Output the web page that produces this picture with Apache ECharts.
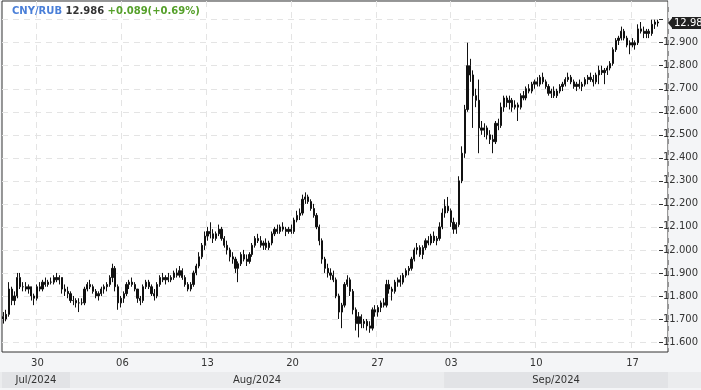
<!DOCTYPE html>
<html><head><meta charset="utf-8">
<script src="https://cdn.jsdelivr.net/npm/echarts/dist/echarts.min.js"></script>
<style>html,body{margin:0;padding:0;background:#f4f5f7;}#c{width:701px;height:390px;}</style>
</head><body><div id="c"></div><script>
const FONT = 'DejaVu Sans';
const symbolName = 'CNY/RUB';
const lastPrice = 12.986;
const change = 0.089;
const changePct = 0.69;

const tradingDays = ['2024-07-26','2024-07-29','2024-07-30','2024-07-31','2024-08-01','2024-08-02','2024-08-05',
 '2024-08-06','2024-08-07','2024-08-08','2024-08-09','2024-08-12','2024-08-13','2024-08-14','2024-08-15','2024-08-16','2024-08-19',
 '2024-08-20','2024-08-21','2024-08-22','2024-08-23','2024-08-26','2024-08-27','2024-08-28','2024-08-29','2024-08-30',
 '2024-09-02','2024-09-03','2024-09-04','2024-09-05','2024-09-06','2024-09-09','2024-09-10','2024-09-11','2024-09-12','2024-09-13','2024-09-16',
 '2024-09-17','2024-09-18'];
const candlesPerDay = [6,6,6,6,6,6,6, 6,6,6,6,6, 6,6,6,6,6, 6,6,6,6,6, 6,6,6,6, 2, 6,6,6,6,6, 7,7,7,7,6, 7,6];
const tickDays = ['2024-07-30','2024-08-06','2024-08-13','2024-08-20','2024-08-27','2024-09-03','2024-09-10','2024-09-17'];
const monthKeys = ['2024-07','2024-08','2024-09'];
const monthLabels = ['Jul/2024','Aug/2024','Sep/2024'];
const yMin = 11.6, yMax = 13.0, yStep = 0.1;

const open = [
11.71,11.70,11.72,11.83,11.78,11.80,11.88,11.84,11.84,11.83,
11.84,11.80,11.79,11.84,11.83,11.86,11.85,11.86,11.86,11.88,
11.87,11.88,11.83,11.82,11.81,11.78,11.78,11.77,11.77,11.77,
11.83,11.85,11.84,11.82,11.80,11.81,11.83,11.84,11.85,11.88,
11.92,11.84,11.77,11.79,11.81,11.85,11.86,11.85,11.83,11.79,
11.78,11.84,11.86,11.84,11.81,11.80,11.85,11.88,11.87,11.88,
11.87,11.88,11.90,11.89,11.91,11.88,11.85,11.83,11.85,11.90,
11.93,11.97,12.02,12.06,12.08,12.07,12.05,12.07,12.09,12.05,
12.02,12.00,11.97,11.96,11.92,11.94,11.98,11.96,11.95,11.98,
12.02,12.05,12.04,12.02,12.03,12.01,12.03,12.07,12.09,12.08,
12.10,12.09,12.08,12.09,12.08,12.13,12.15,12.16,12.22,12.23,
12.21,12.18,12.15,12.10,12.04,11.96,11.92,11.90,11.89,11.87,
11.80,11.73,11.76,11.85,11.87,11.82,11.74,11.68,11.71,11.68,
11.69,11.67,11.66,11.74,11.73,11.75,11.77,11.76,11.85,11.83,
11.82,11.86,11.87,11.86,11.89,11.91,11.92,11.96,12.00,12.01,
11.98,12.01,12.04,12.03,12.06,12.04,12.05,12.10,12.16,12.19,
12.17,12.12,12.09,12.11,12.30,12.42,12.61,12.80,12.76,12.67,
12.65,12.53,12.52,12.53,12.50,12.48,12.47,12.55,12.54,12.62,
12.66,12.64,12.65,12.62,12.63,12.62,12.67,12.66,12.70,12.69,
12.72,12.73,12.72,12.75,12.73,12.71,12.68,12.69,12.67,12.69,
12.71,12.72,12.74,12.75,12.73,12.71,12.72,12.71,12.72,12.74,
12.75,12.74,12.73,12.76,12.78,12.77,12.78,12.79,12.81,12.87,
12.91,12.92,12.95,12.92,12.89,12.90,12.89,12.90,12.96,12.95,
12.94,12.95,12.94,12.98,12.99];
const close = [
11.70,11.72,11.83,11.78,11.80,11.88,11.84,11.84,11.83,11.84,
11.80,11.79,11.84,11.83,11.86,11.85,11.86,11.86,11.88,11.87,
11.88,11.83,11.82,11.81,11.78,11.78,11.77,11.77,11.77,11.83,
11.85,11.84,11.82,11.80,11.81,11.83,11.84,11.85,11.88,11.92,
11.84,11.77,11.79,11.81,11.85,11.86,11.85,11.83,11.79,11.78,
11.84,11.86,11.84,11.81,11.80,11.85,11.88,11.87,11.88,11.87,
11.88,11.90,11.89,11.91,11.88,11.85,11.83,11.85,11.90,11.93,
11.97,12.02,12.06,12.08,12.07,12.05,12.07,12.09,12.05,12.02,
12.00,11.97,11.96,11.92,11.94,11.98,11.96,11.95,11.98,12.02,
12.05,12.04,12.02,12.03,12.01,12.03,12.07,12.09,12.08,12.10,
12.09,12.08,12.09,12.08,12.13,12.15,12.16,12.22,12.23,12.21,
12.18,12.15,12.10,12.04,11.96,11.92,11.90,11.89,11.87,11.80,
11.73,11.76,11.85,11.87,11.82,11.74,11.68,11.71,11.68,11.69,
11.67,11.66,11.74,11.73,11.75,11.77,11.76,11.85,11.83,11.82,
11.86,11.87,11.86,11.89,11.91,11.92,11.96,12.00,12.01,11.98,
12.01,12.04,12.03,12.06,12.04,12.05,12.10,12.16,12.19,12.17,
12.12,12.09,12.11,12.30,12.42,12.61,12.80,12.76,12.67,12.65,
12.53,12.52,12.53,12.50,12.48,12.47,12.55,12.54,12.62,12.66,
12.64,12.65,12.62,12.63,12.62,12.67,12.66,12.70,12.69,12.72,
12.73,12.72,12.75,12.73,12.71,12.68,12.69,12.67,12.69,12.71,
12.72,12.74,12.75,12.73,12.71,12.72,12.71,12.72,12.74,12.75,
12.74,12.73,12.76,12.78,12.77,12.78,12.79,12.81,12.87,12.91,
12.92,12.95,12.92,12.89,12.90,12.89,12.90,12.96,12.95,12.94,
12.95,12.94,12.98,12.99,12.986];
const high = [
11.73,11.74,11.86,11.84,11.82,11.90,11.90,11.86,11.86,11.85,
11.84,11.81,11.85,11.86,11.87,11.88,11.87,11.88,11.89,11.90,
11.89,11.88,11.85,11.84,11.82,11.80,11.79,11.79,11.79,11.84,
11.86,11.87,11.85,11.83,11.82,11.84,11.85,11.86,11.89,11.94,
11.93,11.85,11.80,11.82,11.86,11.87,11.88,11.86,11.83,11.80,
11.85,11.87,11.87,11.85,11.83,11.86,11.89,11.90,11.89,11.90,
11.89,11.91,11.92,11.93,11.92,11.89,11.86,11.86,11.91,11.94,
11.99,12.03,12.08,12.10,12.12,12.09,12.08,12.11,12.10,12.06,
12.04,12.01,11.99,11.97,11.95,11.99,12.00,11.98,11.99,12.03,
12.06,12.07,12.06,12.04,12.05,12.04,12.08,12.10,12.11,12.11,
12.12,12.10,12.10,12.11,12.14,12.17,12.18,12.24,12.25,12.24,
12.22,12.20,12.16,12.11,12.05,11.97,11.94,11.92,11.91,11.88,
11.81,11.77,11.86,11.89,11.88,11.83,11.75,11.73,11.72,11.70,
11.70,11.69,11.75,11.76,11.76,11.78,11.79,11.87,11.87,11.84,
11.87,11.88,11.89,11.90,11.92,11.93,11.97,12.01,12.03,12.02,
12.02,12.05,12.06,12.07,12.08,12.06,12.12,12.18,12.22,12.23,
12.18,12.14,12.12,12.32,12.45,12.63,12.90,12.83,12.78,12.70,
12.74,12.56,12.55,12.54,12.52,12.50,12.56,12.57,12.64,12.67,
12.67,12.67,12.66,12.65,12.64,12.68,12.69,12.71,12.72,12.73,
12.74,12.75,12.76,12.77,12.74,12.72,12.70,12.71,12.70,12.72,
12.73,12.75,12.77,12.76,12.74,12.73,12.74,12.73,12.75,12.76,
12.77,12.76,12.77,12.80,12.80,12.79,12.80,12.82,12.88,12.92,
12.93,12.97,12.96,12.93,12.91,12.92,12.91,12.98,12.99,12.97,
12.96,12.96,13.00,13.00,13.00];
const low = [
11.68,11.69,11.71,11.76,11.76,11.79,11.83,11.82,11.82,11.81,
11.78,11.76,11.78,11.82,11.82,11.84,11.84,11.85,11.85,11.86,
11.85,11.81,11.80,11.79,11.77,11.76,11.75,11.73,11.76,11.76,
11.82,11.83,11.81,11.79,11.78,11.80,11.81,11.82,11.84,11.86,
11.82,11.74,11.75,11.77,11.80,11.83,11.84,11.82,11.77,11.76,
11.77,11.83,11.83,11.80,11.78,11.79,11.84,11.86,11.85,11.86,
11.86,11.87,11.88,11.88,11.87,11.84,11.82,11.82,11.84,11.89,
11.92,11.96,12.00,12.04,12.05,12.03,12.04,12.06,12.04,12.01,
11.98,11.95,11.94,11.90,11.86,11.93,11.95,11.93,11.94,11.97,
12.01,12.03,12.01,12.00,12.00,12.00,12.02,12.06,12.07,12.07,
12.08,12.06,12.07,12.07,12.07,12.12,12.13,12.15,12.20,12.20,
12.17,12.14,12.09,12.02,11.94,11.90,11.88,11.87,11.86,11.79,
11.70,11.66,11.75,11.84,11.80,11.72,11.65,11.62,11.66,11.66,
11.65,11.64,11.65,11.71,11.71,11.73,11.75,11.75,11.81,11.78,
11.81,11.84,11.84,11.85,11.88,11.89,11.91,11.95,11.98,11.97,
11.96,12.00,12.02,12.02,12.03,12.02,12.04,12.09,12.14,12.16,
12.10,12.07,12.07,12.10,12.29,12.40,12.60,12.73,12.53,12.62,
12.42,12.50,12.49,12.48,12.46,12.42,12.46,12.52,12.53,12.60,
12.62,12.61,12.60,12.61,12.56,12.61,12.65,12.65,12.68,12.68,
12.70,12.71,12.71,12.72,12.70,12.67,12.66,12.66,12.66,12.68,
12.69,12.71,12.73,12.72,12.70,12.69,12.70,12.69,12.71,12.72,
12.73,12.71,12.72,12.72,12.76,12.72,12.76,12.78,12.80,12.86,
12.89,12.91,12.91,12.88,12.85,12.88,12.87,12.89,12.94,12.92,
12.92,12.92,12.93,12.96,12.97];

const categories = [], candleDay = [];
tradingDays.forEach((d, k) => { for (let j = 0; j < candlesPerDay[k]; j++) { categories.push(d + ' ' + (j + 1)); candleDay.push(d); } });
const tickIdx = new Set(tickDays.map(d => categories.indexOf(d + ' 1')));
const ohlc = open.map((o, i) => [o, close[i], low[i], high[i]]);

const dark = '#e2e3e6';
const monthAreas = monthKeys.map((m, k) => {
  let s = candleDay.findIndex(d => d.startsWith(m));
  let e = 0; candleDay.forEach((d, i) => { if (d.startsWith(m)) e = i + 1; });
  return [{ name: monthLabels[k], xAxis: s, itemStyle: { color: k % 2 === 0 ? dark : 'rgba(0,0,0,0)' } }, { xAxis: e }];
});

const grid = '#e4e4e4';
const chart = echarts.init(document.getElementById('c'), null, { renderer: 'canvas' });
const fmt = v => (v > 0 ? '+' : '') + v.toFixed(3);
chart.setOption({
  animation: false,
  backgroundColor: '#f4f5f7',
  textStyle: { fontFamily: FONT },
  title: {
    left: 12, top: 6, padding: 0,
    text: '{a|' + symbolName + '} {b|' + lastPrice.toFixed(3) + '} {c|' + fmt(change) + '(+' + changePct.toFixed(2) + '%)}',
    textStyle: {
      fontSize: 10, fontWeight: 'bold', fontFamily: FONT,
      rich: {
        a: { color: '#4a7fd8', fontSize: 10, fontWeight: 'bold', fontFamily: FONT },
        b: { color: '#333', fontSize: 10, fontWeight: 'bold', fontFamily: FONT },
        c: { color: '#55a02a', fontSize: 10, fontWeight: 'bold', fontFamily: FONT }
      }
    }
  },
  grid: [
    { left: 2, right: 33, top: 19.7, bottom: 48 },
    { left: 2, right: 33, top: 1, bottom: 38, show: true, backgroundColor: '#fff', borderColor: '#333', borderWidth: 1 },
    { left: 2, right: 33, top: 372, height: 16 }
  ],
  xAxis: [
    { type: 'category', gridIndex: 0, data: categories, boundaryGap: true, show: false },
    { type: 'category', gridIndex: 1, data: categories, boundaryGap: true,
      axisLine: { show: false }, axisTick: { show: false },
      axisLabel: { interval: i => tickIdx.has(i), formatter: v => v.slice(8, 10), color: '#333', fontSize: 10, margin: 6, fontFamily: FONT },
      splitLine: { show: true, interval: i => tickIdx.has(i), lineStyle: { color: grid, type: [6, 5] } } },
    { type: 'value', gridIndex: 2, min: 0, max: categories.length, show: false }
  ],
  yAxis: [
    { type: 'value', gridIndex: 0, position: 'right', min: yMin, max: yMax, interval: yStep,
      axisLine: { show: false }, axisTick: { show: true, length: 4, lineStyle: { color: '#333' } },
      axisLabel: { margin: 4, color: '#333', fontSize: 10, fontFamily: FONT, formatter: v => v >= yMax - 1e-6 ? '' : v.toFixed(3) },
      splitLine: { show: true, lineStyle: { color: grid, type: [6, 5] } } },
    { type: 'value', gridIndex: 1, show: false, splitLine: { show: false } },
    { type: 'value', gridIndex: 2, min: 0, max: 1, show: false, splitLine: { show: false } }
  ],
  series: [
    { type: 'candlestick', xAxisIndex: 0, yAxisIndex: 0, data: ohlc, barWidth: 1.7,
      itemStyle: { color: '#111', color0: '#111', borderColor: '#111', borderColor0: '#111', borderWidth: 1 } },
    { type: 'line', xAxisIndex: 2, yAxisIndex: 2, data: [], silent: true,
      markArea: { silent: true, data: monthAreas,
        label: { show: true, position: 'inside', color: '#333', fontSize: 10, fontFamily: FONT } } }
  ]
});

const py = chart.convertToPixel({ yAxisIndex: 0 }, lastPrice);
const ax = 668;
chart.setOption({
  graphic: [
    { type: 'rect', z: -1, shape: { x: 0, y: 372, width: 701, height: 16 }, style: { fill: '#ebecee' } },
    { type: 'polygon', z: 100, shape: { points: [[ax, py], [ax + 5, py - 6], [ax + 5, py + 6]] }, style: { fill: '#222' } },
    { type: 'rect', z: 100, shape: { x: ax + 4, y: py - 6, width: 40, height: 12 }, style: { fill: '#222' } },
    { type: 'text', z: 101, x: ax + 6, y: py, style: { text: lastPrice.toFixed(3), fill: '#fff', font: '10px "DejaVu Sans"', verticalAlign: 'middle', align: 'left' } }
  ]
});
</script></body></html>
